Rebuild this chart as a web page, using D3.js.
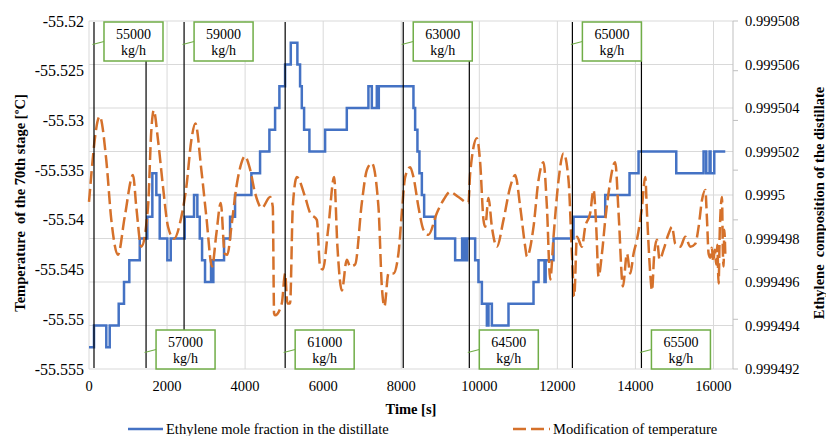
<!DOCTYPE html>
<html><head><meta charset="utf-8">
<script src="https://cdn.jsdelivr.net/npm/d3@7/dist/d3.min.js"></script>
<style>
body{margin:0;background:#fff}
svg{display:block}
</style>
</head><body>
<svg id="c" width="826" height="436" font-family="'Liberation Serif', 'Times New Roman', 'DejaVu Serif', serif"></svg>
<script>
// ---------------- data ----------------
const timeTicks = [0,2000,4000,6000,8000,10000,12000,14000,16000];
const tempTicks = [-55.52,-55.525,-55.53,-55.535,-55.54,-55.545,-55.55,-55.555];
const tempTickLabels = ["-55.52","-55.525","-55.53","-55.535","-55.54","-55.545","-55.55","-55.555"];
const compTicks = [0.999508,0.999506,0.999504,0.999502,0.9995,0.999498,0.999496,0.999494,0.999492];
const compTickLabels = ["0.999508","0.999506","0.999504","0.999502","0.9995","0.999498","0.999496","0.999494","0.999492"];

// Ethylene mole fraction in the distillate (step series, right axis)
const compTime = [0,128,443,531,761,897,1033,1300,1494,1623,1725,1812,2007,2094,2453,2691,2776,2838,2897,2973,3127,3153,3186,3460,3614,3742,4160,4383,4622,4768,4878,5024,5170,5339,5408,5452,5511,5647,6049,6605,7159,7246,7374,7405,7425,8313,8356,8415,8466,8528,8587,8869,9381,9560,9580,9610,9630,9690,9894,9978,10066,10194,10235,10322,10748,11389,11517,11670,11700,11901,12414,13226,13849,14080,15046,15746,15815,15900,15925,16020,16302];
const compValue = [0.999493,0.999494,0.999493,0.999494,0.999495,0.999496,0.999497,0.999498,0.999499,0.999501,0.9995,0.999498,0.999497,0.999498,0.999499,0.9995,0.999499,0.999498,0.999497,0.999496,0.999497,0.999496,0.999497,0.999498,0.999499,0.9995,0.999501,0.999502,0.999503,0.999504,0.999505,0.999506,0.999507,0.999506,0.999505,0.999504,0.999503,0.999502,0.999503,0.999504,0.999505,0.999504,0.999505,0.999504,0.999505,0.999504,0.999503,0.999502,0.999501,0.9995,0.999499,0.999498,0.999497,0.999498,0.999497,0.999498,0.999497,0.999498,0.999497,0.999496,0.999495,0.999494,0.999495,0.999494,0.999495,0.999496,0.999497,0.999496,0.999497,0.999498,0.999499,0.9995,0.999501,0.999502,0.999501,0.999502,0.999501,0.999502,0.999501,0.999502,0.999502];

// Modification of temperature (left axis)
const tempTime = [0,274,443,572,743,915,1128,1212,1341,1512,1597,1658,1769,1897,2025,2179,2366,2494,2622,2725,2879,3007,3153,3263,3376,3478,3545,3648,3776,3904,3991,4119,4255,4427,4640,4709,4742,4768,4940,5024,5083,5152,5221,5324,5537,5665,5837,5921,5990,6134,6280,6365,6478,6606,6690,6818,6990,7118,7246,7416,7503,7569,7672,7800,7928,8015,8100,8228,8313,8441,8569,8697,8913,9082,9253,9466,9723,9766,9938,10023,10107,10151,10235,10322,10450,10620,10791,10920,11048,11176,11220,11389,11517,11645,11732,11817,11902,12030,12158,12286,12373,12432,12501,12629,12714,12842,12927,12996,13055,13142,13227,13311,13483,13568,13680,13783,13868,13952,14039,14167,14252,14296,14380,14424,14483,14552,14619,14721,14850,14937,15021,15149,15278,15406,15534,15619,15706,15791,15834,15875,15918,15957,15995,16033,16072,16097,16131,16162,16218,16239,16259,16277,16302];
const tempValue = [-55.5382,-55.5296,-55.5340,-55.5400,-55.5435,-55.5397,-55.5355,-55.5387,-55.5427,-55.5387,-55.5310,-55.5290,-55.5320,-55.5367,-55.5407,-55.5419,-55.5397,-55.5367,-55.5320,-55.5303,-55.5350,-55.5397,-55.5447,-55.5414,-55.5383,-55.5434,-55.5435,-55.5407,-55.5367,-55.5343,-55.5336,-55.5348,-55.5373,-55.5388,-55.5377,-55.5387,-55.5494,-55.5496,-55.5484,-55.5454,-55.5484,-55.5484,-55.5387,-55.5357,-55.5377,-55.5393,-55.5400,-55.5447,-55.5450,-55.5407,-55.5357,-55.5427,-55.5471,-55.5440,-55.5447,-55.5445,-55.5383,-55.5350,-55.5343,-55.5387,-55.5467,-55.5487,-55.5454,-55.5454,-55.5434,-55.5393,-55.5357,-55.5347,-55.5357,-55.5387,-55.5410,-55.5415,-55.5393,-55.5380,-55.5372,-55.5377,-55.5383,-55.5353,-55.5318,-55.5343,-55.5400,-55.5407,-55.5378,-55.5407,-55.5427,-55.5400,-55.5367,-55.5355,-55.5387,-55.5427,-55.5437,-55.5407,-55.5360,-55.5342,-55.5387,-55.5460,-55.5417,-55.5360,-55.5333,-55.5360,-55.5434,-55.5477,-55.5417,-55.5427,-55.5407,-55.5393,-55.5370,-55.5407,-55.5457,-55.5434,-55.5400,-55.5373,-55.5342,-55.5393,-55.5467,-55.5434,-55.5454,-55.5434,-55.5420,-55.5387,-55.5357,-55.5393,-55.5454,-55.5471,-55.5434,-55.5420,-55.5440,-55.5430,-55.5414,-55.5407,-55.5424,-55.5427,-55.5417,-55.5427,-55.5424,-55.5407,-55.5380,-55.5370,-55.5400,-55.5434,-55.5438,-55.5428,-55.5442,-55.5430,-55.5445,-55.5425,-55.5464,-55.5410,-55.5377,-55.5430,-55.5447,-55.5410,-55.5434];

// Feed flow changes (annotation lines and boxes)
const flowLabels = ["55000","57000","59000","61000","63000","64500","65000","65500"];
const flowUnit = "kg/h";
const flowTimes = [128,1462,2436,5026,8051,9744,12385,14154];
const flowSide = ["top","bottom","top","bottom","top","bottom","top","bottom"];

const seriesNames = ["Ethylene mole fraction in the distillate","Modification of temperature"];

// ---------------- chart ----------------
const svg = d3.select("#c");
const L = 89, R = 733, T = 21, B = 369;
const x = d3.scaleLinear().domain([0,16500]).range([L,R]);
const yL = d3.scaleLinear().domain([-55.555,-55.52]).range([B,T]);
const yR = d3.scaleLinear().domain([0.999492,0.999508]).range([B,T]);

const blue = "#4472C4", orange = "#D5712B", green = "#70AD47", grid = "#D9D9D9";
const fs = "14.5px";

// gridlines
svg.append("g").selectAll("line").data(compTicks).join("line")
  .attr("x1",L).attr("x2",R).attr("y1",d=>yR(d)).attr("y2",d=>yR(d))
  .attr("stroke",grid).attr("stroke-width",1);
svg.append("g").selectAll("line").data(timeTicks).join("line")
  .attr("x1",d=>x(d)).attr("x2",d=>x(d)).attr("y1",T).attr("y2",B)
  .attr("stroke",grid).attr("stroke-width",1);

// right axis line + ticks
svg.append("line").attr("x1",R).attr("x2",R).attr("y1",T).attr("y2",B).attr("stroke","#BFBFBF");
svg.append("g").selectAll("line").data(tempTicks).join("line")
  .attr("x1",R).attr("x2",R+5).attr("y1",d=>yL(d)).attr("y2",d=>yL(d)).attr("stroke","#BFBFBF");

// axis labels
svg.append("g").selectAll("text").data(tempTicks).join("text")
  .attr("x",84).attr("y",d=>yL(d)).attr("dy","0.35em").attr("text-anchor","end")
  .style("font-size","16px").text((d,i)=>tempTickLabels[i]);
svg.append("g").selectAll("text").data(compTicks).join("text")
  .attr("x",745).attr("y",d=>yR(d)).attr("dy","0.35em").attr("text-anchor","start")
  .style("font-size",fs).text((d,i)=>compTickLabels[i]);
svg.append("g").selectAll("text").data(timeTicks).join("text")
  .attr("x",d=>x(d)).attr("y",391).attr("text-anchor","middle")
  .style("font-size",fs).text(d=>d);

// titles
svg.append("text").attr("x",(L+R)/2).attr("y",414).attr("text-anchor","middle")
  .style("font-size",fs).style("font-weight","bold").text("Time [s]");
svg.append("text").attr("transform",`translate(25,${(T+B)/2+8}) rotate(-90)`).attr("text-anchor","middle")
  .style("font-size",fs).style("font-weight","bold").style("white-space","pre").text("Temperature  of the 70th stage [ºC]");
svg.append("text").attr("transform",`translate(824,${(T+B)/2+8}) rotate(-90)`).attr("text-anchor","middle")
  .style("font-size",fs).style("font-weight","bold").style("white-space","pre").text("Ethylene  composition of the distillate");

// series
const compData = compTime.map((t,i)=>[t,compValue[i]]);
const tempData = tempTime.map((t,i)=>[t,tempValue[i]]);
svg.append("path").datum(compData)
  .attr("d", d3.line().x(d=>x(d[0])).y(d=>yR(d[1])).curve(d3.curveStepAfter))
  .attr("fill","none").attr("stroke",blue).attr("stroke-width",2.5);
svg.append("path").datum(tempData)
  .attr("d", d3.line().x(d=>x(d[0])).y(d=>yL(d[1])).curve(d3.curveMonotoneX))
  .attr("fill","none").attr("stroke",orange).attr("stroke-width",2.5)
  .attr("stroke-dasharray","13,5");

// flow change lines
svg.append("g").selectAll("line").data(flowTimes).join("line")
  .attr("x1",d=>x(d)).attr("x2",d=>x(d)).attr("y1",T+1).attr("y2",B-1)
  .attr("stroke","#000").attr("stroke-width",1.2);

// annotation boxes
const bw = 59, bh = 39;
const ann = svg.append("g").selectAll("g").data(flowTimes).join("g");
ann.each(function(t,i){
  const g = d3.select(this);
  const lx = x(t);
  const bx = lx + 10;
  const by = flowSide[i]==="top" ? 22 : 330;
  g.append("line").attr("x1",lx-1.5).attr("y1",by+bh/2+3).attr("x2",bx).attr("y2",by+bh/2)
    .attr("stroke",green).attr("stroke-width",1.2);
  g.append("rect").attr("x",bx).attr("y",by).attr("width",bw).attr("height",bh)
    .attr("fill","#fff").attr("stroke",green).attr("stroke-width",1.5);
  g.append("text").attr("x",bx+bw/2).attr("y",by+17).attr("text-anchor","middle")
    .style("font-size","14px").text(flowLabels[i]);
  g.append("text").attr("x",bx+bw/2).attr("y",by+33).attr("text-anchor","middle")
    .style("font-size","14px").text(flowUnit);
});

// legend
svg.append("line").attr("x1",128).attr("x2",163).attr("y1",429).attr("y2",429)
  .attr("stroke",blue).attr("stroke-width",2.5);
svg.append("text").attr("x",166).attr("y",434).style("font-size",fs).text(seriesNames[0]);
svg.append("line").attr("x1",513).attr("x2",550).attr("y1",429).attr("y2",429)
  .attr("stroke",orange).attr("stroke-width",2.5).attr("stroke-dasharray","13,5");
svg.append("text").attr("x",553).attr("y",434).style("font-size",fs).text(seriesNames[1]);
</script>
</body></html>
